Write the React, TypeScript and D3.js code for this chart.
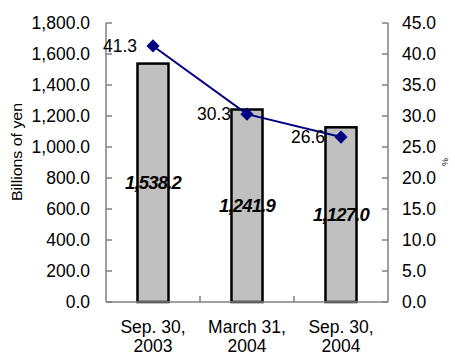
import React from 'react';
import * as d3 from 'd3';

const categories = ['Sep. 30,|2003', 'March 31,|2004', 'Sep. 30,|2004'];
const balances = [1538.2, 1241.9, 1127.0];
const ratios = [41.3, 30.3, 26.6];
const leftTicks = [0, 200, 400, 600, 800, 1000, 1200, 1400, 1600, 1800];
const rightTicks = [0, 5, 10, 15, 20, 25, 30, 35, 40, 45];

const W = 455;
const H = 356;
const margin = { top: 23, right: 67, bottom: 54, left: 106 };
const font = '"Liberation Sans", Arial, sans-serif';

export default function App() {
  const x = d3
    .scaleBand()
    .domain(categories)
    .range([margin.left, W - margin.right])
    .paddingInner(0.67)
    .paddingOuter(0.335);
  const band = d3.scaleBand().domain(categories).range([margin.left, W - margin.right]);
  const yL = d3.scaleLinear().domain([0, 1800]).range([H - margin.bottom, margin.top]);
  const yR = d3.scaleLinear().domain([0, 45]).range([H - margin.bottom, margin.top]);
  const cx = (c: string) => (band(c) as number) + band.bandwidth() / 2;

  const line = d3
    .line<number>()
    .x((_, i) => cx(categories[i]))
    .y((d) => yR(d));
  const diamond = d3.symbol().type(d3.symbolDiamond2).size(110)();
  const fmt = d3.format(',.1f');
  const x0 = margin.left;
  const x1 = W - margin.right;
  const yb = H - margin.bottom;
  const axisColor = '#808080';
  const fs = 17.5;

  return (
    <svg width={W} height={H} style={{ position: 'absolute', left: 0, top: 0, background: '#fff' }} fontFamily={font}>
      {/* left axis */}
      <line x1={x0} x2={x0} y1={margin.top} y2={yb} stroke={axisColor} strokeWidth={1.5} />
      {leftTicks.map((t) => (
        <g key={'l' + t}>
          <line x1={x0} x2={x0 + 6} y1={yL(t)} y2={yL(t)} stroke={axisColor} strokeWidth={1.5} />
          <text x={x0 - 16} y={yL(t)} dy="0.36em" textAnchor="end" fontSize={fs}>
            {fmt(t)}
          </text>
        </g>
      ))}
      {/* right axis */}
      <line x1={x1} x2={x1} y1={margin.top} y2={yb} stroke={axisColor} strokeWidth={1.5} />
      {rightTicks.map((t) => (
        <g key={'r' + t}>
          <line x1={x1 - 6} x2={x1} y1={yR(t)} y2={yR(t)} stroke={axisColor} strokeWidth={1.5} />
          <text x={x1 + 14} y={yR(t)} dy="0.36em" textAnchor="start" fontSize={fs}>
            {t.toFixed(1)}
          </text>
        </g>
      ))}
      {/* bars */}
      {categories.map((c, i) => (
        <rect
          key={c}
          x={x(c)}
          y={yL(balances[i])}
          width={x.bandwidth()}
          height={yb - yL(balances[i])}
          fill="#c0c0c0"
          stroke="#000"
          strokeWidth={2.5}
        />
      ))}
      {/* x axis */}
      <line x1={x0} x2={x1} y1={yb} y2={yb} stroke={axisColor} strokeWidth={1.5} />
      {categories.slice(1).map((c) => (
        <line key={'t' + c} x1={band(c)} x2={band(c)} y1={yb} y2={yb - 6} stroke={axisColor} strokeWidth={1.5} />
      ))}
      {categories.map((c) => (
        <text key={'x' + c} x={cx(c)} y={333} textAnchor="middle" fontSize={fs}>
          {c.split('|').map((s, j) => (
            <tspan key={j} x={cx(c)} dy={j === 0 ? 0 : 19}>
              {s}
            </tspan>
          ))}
        </text>
      ))}
      {/* bar values */}
      {categories.map((c, i) => (
        <text
          key={'v' + c}
          x={cx(c)}
          y={(yL(balances[i]) + yb) / 2}
          dy="0.36em"
          textAnchor="middle"
          fontSize={18.5}
          fontWeight="bold"
          fontStyle="italic"
          letterSpacing={-0.8}
        >
          {fmt(balances[i])}
        </text>
      ))}
      {/* line */}
      <path d={line(ratios) as string} fill="none" stroke="#000080" strokeWidth={2} />
      {ratios.map((r, i) => (
        <g key={'p' + i}>
          <path d={diamond as string} transform={`translate(${cx(categories[i])},${yR(r)})`} fill="#000080" />
          <text x={cx(categories[i]) - 16} y={yR(r)} dy="0.36em" textAnchor="end" fontSize={fs}>
            {r.toFixed(1)}
          </text>
        </g>
      ))}
      {/* axis titles */}
      <text transform="translate(22,152) rotate(-90)" textAnchor="middle" fontSize={14} textLength={98} lengthAdjust="spacingAndGlyphs">
        Billions of yen
      </text>
      <text transform="translate(448,162) rotate(-90)" textAnchor="middle" fontSize={9}>
        %
      </text>
    </svg>
  );
}
